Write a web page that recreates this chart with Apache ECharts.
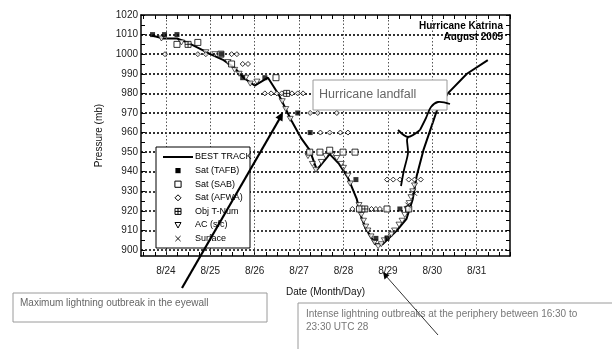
<!DOCTYPE html>
<html>
<head>
<meta charset="utf-8">
<script src="https://cdn.jsdelivr.net/npm/echarts@6/dist/echarts.min.js"></script>
<style>
html,body{margin:0;padding:0;background:#fff;}
#chart{width:612px;height:349px;}
</style>
</head>
<body>
<div id="chart"></div>
<script>
// Axis ticks (day of August, pressure in mb)
const dayTicks = [24, 25, 26, 27, 28, 29, 30, 31];
const pressureTicks = [900, 910, 920, 930, 940, 950, 960, 970, 980, 990, 1000, 1010, 1020];

// Best track minimum pressure
const bestTrackDay = [23.68, 23.95, 24.25, 24.48, 24.75, 25.0, 25.3, 25.55, 25.75, 26.0, 26.3, 26.55, 26.83, 27.05, 27.24, 27.4, 27.69, 27.9, 28.1, 28.3, 28.4, 28.5, 28.72, 28.88, 29.2, 29.42, 29.56, 29.65, 29.8, 29.95, 30.1, 30.35, 30.78, 31.25];
const bestTrackP   = [1009.5, 1008, 1008, 1006, 1003, 1000, 997, 993, 988, 984, 988, 979, 966, 957, 951, 941, 949, 944, 937, 926, 917, 911, 903, 903, 910, 916, 926, 938, 951, 961, 971, 980, 990, 997];

// Satellite estimates (TAFB)
const tafbDay = [23.70, 23.97, 24.25, 25.25, 25.73, 26.23, 26.97, 27.25, 28.28, 28.73, 28.98, 29.27];
const tafbP   = [1010, 1010, 1010, 1000, 988, 988, 970, 960, 936, 906, 906, 921];

// Satellite estimates (SAB)
const sabDay = [24.25, 24.72, 25.24, 25.48, 26.48, 27.24, 27.47, 27.69, 27.99, 28.26, 28.36, 28.98, 29.47];
const sabP   = [1005, 1006, 1000, 995, 988, 950, 950, 951, 950, 950, 921, 921, 921];

// Satellite estimates (AFWA)
const afwaDay = [23.98, 24.72, 24.9, 25.48, 25.6, 25.73, 25.85, 26.23, 26.37, 26.5, 26.61, 26.84, 26.97, 27.09, 27.25, 27.42, 27.85, 27.48, 27.69, 27.93, 28.1, 28.2, 28.63, 28.73, 28.82, 28.98, 29.12, 29.27, 29.47, 29.6, 29.74];
const afwaP   = [1000, 1000, 1000, 1000, 1000, 995, 995, 980, 980, 980, 980, 980, 980, 980, 970, 970, 970, 960, 960, 960, 960, 921, 921, 921, 921, 936, 936, 936, 936, 936, 936];

// Objective T-number estimates
const objDay = [24.5, 26.72, 28.48];
const objP   = [1005, 980, 921];

// Aircraft / surface-adjusted observations
const acDay = [23.9, 24.35, 24.9, 25.1, 25.4, 25.55, 25.65, 25.8, 25.9, 26.05, 26.62, 26.7, 26.8, 27.2, 27.3, 27.38, 27.5, 27.6, 27.75, 27.85, 27.95, 28.0, 28.1, 28.15, 28.35, 28.4, 28.45, 28.5, 28.55, 28.62, 28.7, 28.78, 28.85, 28.92, 29.0, 29.08, 29.15, 29.25, 29.32, 29.38, 29.43, 29.48, 29.52, 29.56, 29.6];
const acP   = [1008, 1006, 1001, 1000, 996, 992, 990, 988, 985, 986, 976, 972, 967, 948, 944, 941, 945, 948, 949, 947, 944, 942, 938, 934, 923, 918, 915, 912, 910, 907, 904, 902, 903, 905, 906, 908, 910, 913, 915, 918, 921, 924, 927, 930, 933];

// Surface observations
const sfcDay = [29.45, 29.6];
const sfcP   = [923, 929];

// Legend entries, top to bottom
const legendNames = ['BEST TRACK', 'Sat (TAFB)', 'Sat (SAB)', 'Sat (AFWA)', 'Obj T-Num', 'AC (sfc)', 'Surface'];

const pair = (xs, ys) => xs.map((x, i) => [x, ys[i]]);

// minor tick positions: every 6 h on the time axis, every 5 mb on the pressure axis
const quarterDays = [];
for (let d = 23.5; d <= 31.75; d += 0.25) quarterDays.push(d);
const minorP = [];
for (let p = 900; p <= 1020; p += 5) minorP.push(p);

const FONT = 'Liberation Sans, Arial, sans-serif';
const X_MIN = 23.44, X_MAX = 31.75, Y_MIN = 897, Y_MAX = 1020;

const chart = echarts.init(document.getElementById('chart'), null, {renderer: 'canvas'});

const frameAxis = {
  axisLine: {show: true, lineStyle: {color: '#000', width: 1.5}},
  splitLine: {show: false}
};

const SQUARE_CROSS = 'path://M0,0H10V10H0Z M5,0V10 M0,5H10';
const DOWN_TRI = 'path://M0,0L10,0L5,9Z';
const CROSS = 'path://M0,0L10,10M10,0L0,10';

const openStyle = {color: '#fff', borderColor: '#000', borderWidth: 1};

// hand-built legend box
const LEG = {x: 156, y: 147, w: 94, h: 101, firstRow: 157, pitch: 13.6, iconX: 178, textX: 195, z: 40};
function legendIcon(i, cy) {
  const cx = LEG.iconX, s = 2.6, z = LEG.z + 1;
  const stroke = {stroke: '#000', lineWidth: 1, fill: '#fff'};
  switch (i) {
    case 0: return [{type: 'line', z, shape: {x1: 163, y1: cy, x2: 193, y2: cy}, style: {stroke: '#000', lineWidth: 2}}];
    case 1: return [{type: 'rect', z, shape: {x: cx - s, y: cy - s, width: 2 * s, height: 2 * s}, style: {fill: '#000'}}];
    case 2: return [{type: 'rect', z, shape: {x: cx - s - 0.5, y: cy - s - 0.5, width: 2 * s + 1, height: 2 * s + 1}, style: stroke}];
    case 3: return [{type: 'polygon', z, shape: {points: [[cx, cy - 3], [cx + 3, cy], [cx, cy + 3], [cx - 3, cy]]}, style: stroke}];
    case 4: return [
      {type: 'rect', z, shape: {x: cx - 3, y: cy - 3, width: 6, height: 6}, style: stroke},
      {type: 'line', z: z + 1, shape: {x1: cx, y1: cy - 3, x2: cx, y2: cy + 3}, style: {stroke: '#000', lineWidth: 1}},
      {type: 'line', z: z + 1, shape: {x1: cx - 3, y1: cy, x2: cx + 3, y2: cy}, style: {stroke: '#000', lineWidth: 1}}
    ];
    case 5: return [{type: 'polygon', z, shape: {points: [[cx - 3, cy - 2.5], [cx + 3, cy - 2.5], [cx, cy + 3]]}, style: stroke}];
    default: return [
      {type: 'line', z, shape: {x1: cx - 2.6, y1: cy - 2.6, x2: cx + 2.6, y2: cy + 2.6}, style: {stroke: '#000', lineWidth: 0.9}},
      {type: 'line', z, shape: {x1: cx + 2.6, y1: cy - 2.6, x2: cx - 2.6, y2: cy + 2.6}, style: {stroke: '#000', lineWidth: 0.9}}
    ];
  }
}
const legendElements = [{type: 'rect', z: LEG.z, shape: {x: LEG.x, y: LEG.y, width: LEG.w, height: LEG.h}, style: {fill: '#fff', stroke: '#000', lineWidth: 1}}];
legendNames.forEach((name, i) => {
  const cy = LEG.firstRow + i * LEG.pitch;
  legendIcon(i, cy).forEach(el => legendElements.push(el));
  legendElements.push({type: 'text', z: LEG.z + 1, x: LEG.textX, y: cy, style: {text: name, font: '9px ' + FONT, fill: '#000', textVerticalAlign: 'middle'}});
});

const option = {
  animation: false,
  backgroundColor: '#fff',
  textStyle: {fontFamily: FONT},
  grid: {left: 141, right: 102, top: 15, bottom: 93},
  xAxis: [
    Object.assign({
      type: 'value', min: X_MIN, max: X_MAX, position: 'bottom',
      name: 'Date (Month/Day)', nameLocation: 'middle', nameGap: 31,
      nameTextStyle: {fontFamily: FONT, fontSize: 10, color: '#111'},
      axisTick: {show: true, inside: true, length: 4, customValues: quarterDays, lineStyle: {color: '#000'}},
      axisLabel: {customValues: dayTicks, formatter: v => '8/' + v, fontFamily: FONT, fontSize: 10, color: '#222', margin: 10}
    }, frameAxis),
    Object.assign({
      type: 'value', min: X_MIN, max: X_MAX, position: 'top',
      axisTick: {show: true, inside: true, length: 4, customValues: quarterDays, lineStyle: {color: '#000'}},
      axisLabel: {show: false}
    }, frameAxis)
  ],
  yAxis: [
    Object.assign({
      type: 'value', min: Y_MIN, max: Y_MAX, position: 'left',
      name: 'Pressure (mb)', nameLocation: 'middle', nameGap: 37, nameRotate: 90,
      nameTextStyle: {fontFamily: FONT, fontSize: 10, color: '#111'},
      axisTick: {show: true, inside: true, length: 4, customValues: minorP, lineStyle: {color: '#000'}},
      axisLabel: {customValues: pressureTicks, formatter: v => String(v), fontFamily: FONT, fontSize: 10, color: '#222', margin: 3}
    }, frameAxis),
    Object.assign({
      type: 'value', min: Y_MIN, max: Y_MAX, position: 'right',
      axisTick: {show: true, inside: true, length: 4, customValues: minorP, lineStyle: {color: '#000'}},
      axisLabel: {show: false}
    }, frameAxis)
  ],
  series: [
    {
      // dotted reference grid
      type: 'scatter', data: [], silent: true, xAxisIndex: 0, yAxisIndex: 0,
      markLine: {
        silent: true, symbol: ['none', 'none'], animation: false,
        label: {show: false},
        data: pressureTicks.filter(p => p < Y_MAX).map(p => ({yAxis: p, lineStyle: {color: '#000', width: 1.6, type: [2, 2]}}))
          .concat(dayTicks.map(d => ({xAxis: d, lineStyle: {color: '#555', width: 1, type: [1.5, 2]}})))
      }
    },
    {
      name: 'BEST TRACK', type: 'line', data: pair(bestTrackDay, bestTrackP),
      symbol: 'none', lineStyle: {color: '#000', width: 2}, itemStyle: {color: '#000'}, z: 3
    },
    {
      name: 'AC (sfc)', type: 'scatter', data: pair(acDay, acP),
      symbol: DOWN_TRI, symbolSize: [6, 5], itemStyle: Object.assign({}, openStyle, {borderWidth: 0.8}), z: 4
    },
    {
      name: 'Sat (SAB)', type: 'scatter', data: pair(sabDay, sabP),
      symbol: 'rect', symbolSize: 6, itemStyle: openStyle, z: 5
    },
    {
      name: 'Sat (AFWA)', type: 'scatter', data: pair(afwaDay, afwaP),
      symbol: 'diamond', symbolSize: 5, itemStyle: openStyle, z: 5
    },
    {
      name: 'Obj T-Num', type: 'scatter', data: pair(objDay, objP),
      symbol: SQUARE_CROSS, symbolSize: 6, itemStyle: openStyle, z: 5
    },
    {
      name: 'Surface', type: 'scatter', data: pair(sfcDay, sfcP),
      symbol: CROSS, symbolSize: 5, itemStyle: {color: 'none', borderColor: '#000', borderWidth: 1}, z: 5
    },
    {
      name: 'Sat (TAFB)', type: 'scatter', data: pair(tafbDay, tafbP),
      symbol: 'rect', symbolSize: 5, itemStyle: {color: '#000'}, z: 6
    }
  ],
  graphic: legendElements.concat([
    // title
    {type: 'text', right: 109, top: 21, z: 50,
     style: {text: 'Hurricane Katrina', font: 'bold 10px ' + FONT, fill: '#000', textAlign: 'right'}},
    {type: 'text', right: 109, top: 32, z: 50,
     style: {text: 'August 2005', font: 'bold 10px ' + FONT, fill: '#000', textAlign: 'right'}},
    // landfall callout
    {type: 'rect', shape: {x: 313, y: 80, width: 134, height: 30}, z: 60,
     style: {fill: '#fff', stroke: '#9a9a9a', lineWidth: 1}},
    {type: 'text', x: 319, y: 88, z: 61,
     style: {text: 'Hurricane landfall', font: '12.5px ' + FONT, fill: '#666'}},
    {type: 'polyline', z: 62, shape: {smooth: 0.3, points: [[401, 186], [404, 170], [408, 153], [407, 140], [408, 137]]},
     style: {stroke: '#000', lineWidth: 1.8, fill: 'none'}},
    {type: 'polyline', z: 62, shape: {smooth: 0.3, points: [[398, 130], [408, 137], [420, 130]]},
     style: {stroke: '#000', lineWidth: 1.8, fill: 'none'}},
    {type: 'polyline', z: 62, shape: {smooth: 0.35, points: [[420, 130], [426, 118], [431, 107], [438, 102], [450, 104]]},
     style: {stroke: '#000', lineWidth: 1.8, fill: 'none'}},
    // eyewall annotation
    {type: 'rect', shape: {x: 13, y: 293, width: 254, height: 29}, z: 60,
     style: {fill: '#fff', stroke: '#9a9a9a', lineWidth: 1}},
    {type: 'text', x: 20, y: 298, z: 61,
     style: {text: 'Maximum lightning outbreak in the eyewall', font: '10px ' + FONT, fill: '#666'}},
    {type: 'line', z: 70, shape: {x1: 182, y1: 288, x2: 280, y2: 118},
     style: {stroke: '#000', lineWidth: 2.2}},
    {type: 'polygon', z: 70, shape: {points: [[283, 112], [275.5, 117.5], [282.5, 121.5]]},
     style: {fill: '#000'}},
    // periphery annotation
    {type: 'rect', shape: {x: 298, y: 303, width: 330, height: 60}, z: 60,
     style: {fill: '#fff', stroke: '#9a9a9a', lineWidth: 1}},
    {type: 'text', x: 306, y: 308, z: 61,
     style: {text: 'Intense lightning outbreaks at the periphery between 16:30 to\n23:30 UTC 28', font: '10px ' + FONT, fill: '#777', lineHeight: 13}},
    {type: 'line', z: 70, shape: {x1: 438, y1: 335, x2: 386, y2: 276},
     style: {stroke: '#333', lineWidth: 1}},
    {type: 'polygon', z: 70, shape: {points: [[383, 272], [384.5, 279.5], [389.5, 275]]},
     style: {fill: '#000'}}
  ])
};

chart.setOption(option);
</script>
</body>
</html>
